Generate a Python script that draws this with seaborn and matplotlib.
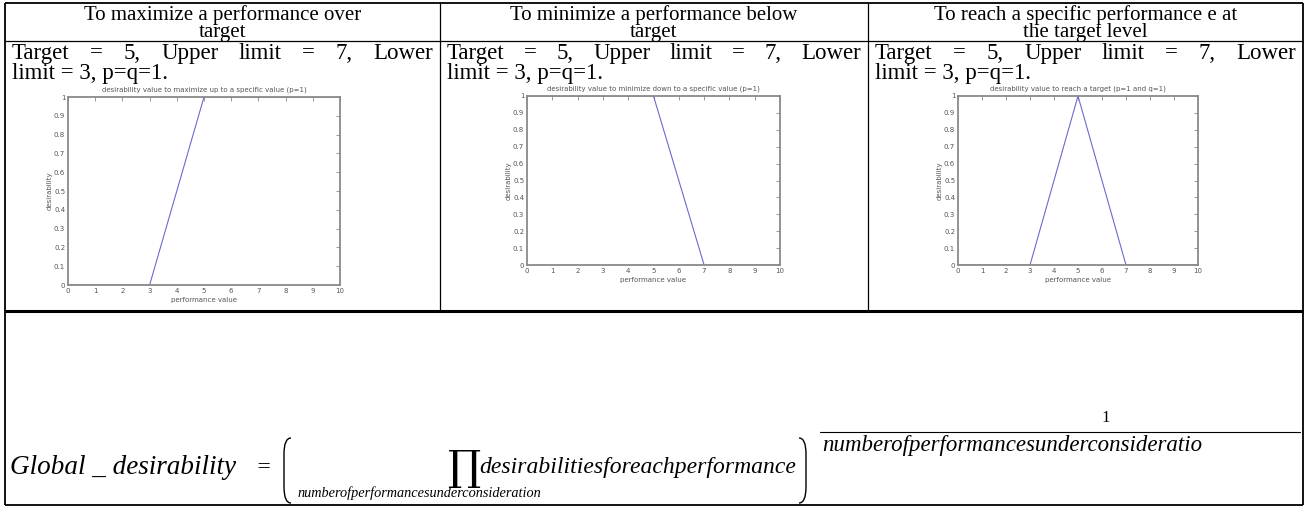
import matplotlib
matplotlib.use("Agg")
import matplotlib.pyplot as plt
import seaborn as sns
import pandas as pd
from matplotlib.path import Path
from matplotlib.patches import PathPatch

# ---------------- data ----------------
headers = [["To maximize a performance over", "target"],
           ["To minimize a performance below", "target"],
           ["To reach a specific performance e at", "the target level"]]
param_line1 = "Target = 5, Upper limit = 7, Lower"
param_line2 = "limit = 3, p=q=1."
plot_titles = ["desirability value to maximize up to a specific value (p=1)",
               "desirability value to minimize down to a specific value (p=1)",
               "desirability value to reach a target (p=1 and q=1)"]
perf_max = [0, 3, 5, 10]
des_max = [0, 0, 1, 1]
perf_min = [0, 5, 7, 10]
des_min = [1, 1, 0, 0]
perf_tgt = [0, 3, 5, 7, 10]
des_tgt = [0, 0, 1, 0, 0]
x_ticks = [0, 1, 2, 3, 4, 5, 6, 7, 8, 9, 10]
y_ticks = [0, 0.1, 0.2, 0.3, 0.4, 0.5, 0.6, 0.7, 0.8, 0.9, 1]
y_tick_labels = ["0", "0.1", "0.2", "0.3", "0.4", "0.5", "0.6", "0.7", "0.8", "0.9", "1"]
x_label = "performance value"
y_label = "desirability"
formula_lhs = "Global _ desirability"
formula_eq = "="
formula_body = "desirabilitiesforeachperformance"
formula_sub = "numberofperformancesunderconsideration"
formula_num = "1"
formula_den = "numberofperformancesunderconsideratio"

# ---------------- style ----------------
sns.set_theme(style="white")
plt.rcParams["font.family"] = ["Liberation Serif", "DejaVu Serif"]

W, H = 1308, 509
fig = plt.figure(figsize=(W / 100, H / 100), dpi=100)
fig.patch.set_facecolor("white")
bg = fig.add_axes([0, 0, 1, 1])
bg.set_xlim(0, W)
bg.set_ylim(H, 0)
bg.axis("off")

# table lines
L, R, T, B = 5, 1303, 3, 505
c1, c2 = 440, 868
hline1, hline2 = 41, 311
k = "black"
lkw = dict(color=k, solid_capstyle="butt")
bg.plot([L, R], [T, T], lw=1.3, **lkw)
bg.plot([L, R], [B, B], lw=1.3, **lkw)
bg.plot([L, L], [T, B], lw=1.3, **lkw)
bg.plot([R, R], [T, B], lw=1.3, **lkw)
bg.plot([L, R], [hline1, hline1], lw=0.9, **lkw)
bg.plot([L, R], [hline2, hline2], lw=2.2, **lkw)
for cx in (c1, c2):
    bg.plot([cx, cx], [T, hline2], lw=0.9, **lkw)

cols = [(L, c1), (c1, c2), (c2, R)]
head_size = 15
txt_size = 16.5

# header
for (a, b), lines in zip(cols, headers):
    xm = (a + b) / 2
    bg.text(xm, 15, lines[0], ha="center", va="center", fontsize=head_size, color=k)
    bg.text(xm, 32, lines[1], ha="center", va="center", fontsize=head_size, color=k)

fig.canvas.draw()
rend = fig.canvas.get_renderer()


def justify(words, x0, x1, y):
    ts = [bg.text(0, y, w, ha="left", va="center", fontsize=txt_size, color=k) for w in words]
    ws = [t.get_window_extent(rend).width for t in ts]
    gap = (x1 - x0 - sum(ws)) / (len(ws) - 1)
    x = x0
    for t, w in zip(ts, ws):
        t.set_x(x)
        x += w + gap


for (a, b) in cols:
    justify(param_line1.split(" "), a + 7, b - 7, 53)
    bg.text(a + 7, 73, param_line2, ha="left", va="center", fontsize=txt_size, color=k)

# ---------------- small plots ----------------
boxes = [(68, 97, 340, 285), (527, 96, 780, 265), (958, 96, 1198, 265)]
series = [(perf_max, des_max), (perf_min, des_min), (perf_tgt, des_tgt)]
line_col = "#6a6ad0"
grey = "#707070"
for (x0, y0, x1, y1), (px, py), title in zip(boxes, series, plot_titles):
    ax = fig.add_axes([x0 / W, 1 - y1 / H, (x1 - x0) / W, (y1 - y0) / H])
    df = pd.DataFrame({"perf": px, "des": py})
    sns.lineplot(data=df, x="perf", y="des", ax=ax, color=line_col, lw=0.8,
                 sort=False)
    for ln in ax.get_lines():
        ln.set_zorder(1)
    ax.set_xlim(0, 10)
    ax.set_ylim(0, 1)
    ax.set_xticks(x_ticks)
    ax.set_xticklabels([str(v) for v in x_ticks])
    ax.set_yticks(y_ticks)
    ax.set_yticklabels(y_tick_labels)
    ax.tick_params(direction="in", top=True, right=True, length=3, width=0.5,
                   color=grey, labelcolor="#555555", labelsize=5, pad=2)
    for s in ax.spines.values():
        s.set_color("#8a8a8a")
        s.set_linewidth(1.3)
        s.set_zorder(5)
    ax.set_xlabel(x_label, fontsize=5, color="#555555", family="DejaVu Sans", labelpad=2)
    ax.set_ylabel(y_label, fontsize=5, color="#555555", family="DejaVu Sans", labelpad=1)
    ax.set_title(title, fontsize=5, color="#555555", family="DejaVu Sans", pad=4)
    for lab in ax.get_xticklabels() + ax.get_yticklabels():
        lab.set_family("DejaVu Sans")
    ax.set_facecolor("white")

# ---------------- formula ----------------
fy = 468
fs = 17
bg.text(10, fy, formula_lhs, ha="left", va="center", fontsize=19.5, style="italic", color=k)
bg.text(255, fy, formula_eq, ha="left", va="center", fontsize=fs, style="italic", color=k)


def paren(x, top, bot, left=True):
    d = 7 if left else -7
    verts = [(x + d, top), (x, top), (x, top + 16), (x, bot - 16), (x, bot), (x + d, bot)]
    codes = [Path.MOVETO, Path.CURVE3, Path.CURVE3, Path.LINETO, Path.CURVE3, Path.CURVE3]
    bg.add_patch(PathPatch(Path(verts, codes), fill=False, lw=1.0, color=k))


paren(284, 438, 503, True)
paren(806, 438, 503, False)
bg.text(464, fy, "\u220f", ha="center", va="center", fontsize=30, color=k,
        family=["DejaVu Serif"])
bg.text(479, fy, formula_body, ha="left", va="center", fontsize=fs, style="italic", color=k)
bg.text(297, 493, formula_sub, ha="left", va="center", fontsize=10.3, style="italic", color=k)
bg.text(1106, 418, formula_num, ha="center", va="center", fontsize=12, color=k)
bg.plot([820, 1300], [432, 432], color=k, lw=0.8)
bg.text(822, 446, formula_den, ha="left", va="center", fontsize=16.5, style="italic", color=k)

fig.savefig("out.png", dpi=100, facecolor="white")
